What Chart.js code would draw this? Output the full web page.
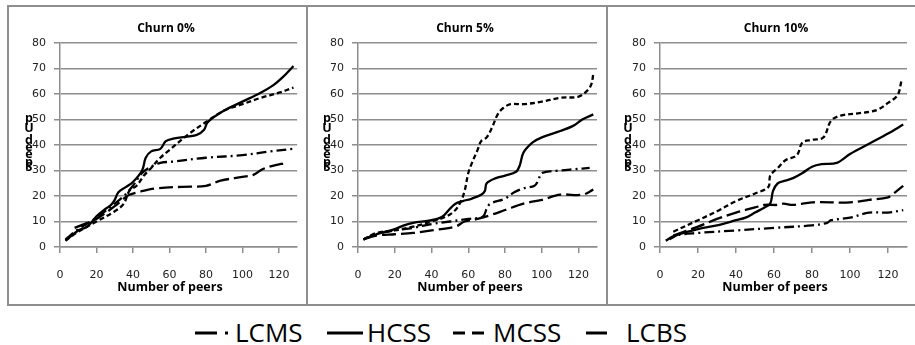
<!DOCTYPE html>
<html><head><meta charset="utf-8">
<script src="https://cdn.jsdelivr.net/npm/chart.js@4/dist/chart.umd.min.js"></script>
<style>
html,body{margin:0;padding:0;background:#fff;width:915px;height:345px;overflow:hidden;position:relative;}
.b{position:absolute;background:#8e8e8e;}
canvas.c{position:absolute;top:7px;}
.lg{position:absolute;top:319px;font-family:"Open Sans";font-size:26px;line-height:26px;color:#000;white-space:nowrap;}
.ls{position:absolute;top:330px;}
</style></head><body>
<div class="b" style="left:7px;top:5px;width:908px;height:2px"></div>
<div class="b" style="left:7px;top:304px;width:908px;height:2px"></div>
<div class="b" style="left:7px;top:5px;width:2px;height:301px"></div>
<div class="b" style="left:306px;top:5px;width:2px;height:301px"></div>
<div class="b" style="left:606px;top:5px;width:2px;height:301px"></div>
<canvas class="c" id="p0" width="297" height="297" style="left:9px"></canvas>
<canvas class="c" id="p5" width="298" height="297" style="left:308px"></canvas>
<canvas class="c" id="p10" width="307" height="297" style="left:608px"></canvas>
<div id="legend"></div>
<script>
// ---- data ----
const seriesNames = ['LCMS', 'HCSS', 'MCSS', 'LCBS'];
const panelTitles = ['Churn 0%', 'Churn 5%', 'Churn 10%'];
const xTitle = 'Number of peers';
const yTitle = 'SpeedUp';
const xTickValues = [0, 20, 40, 60, 80, 100, 120];
const yTickValues = [0, 10, 20, 30, 40, 50, 60, 70, 80];

// Churn 0%  ([peers, speedup])
const c0_LCMS = [[3,3],[10,7],[20,11.5],[30,17],[35,20],[40,24],[45,29],[50,31.5],[55,33],[62,33.5],[80,35],[100,36],[115,37.5],[128,38.5]];
const c0_HCSS = [[3,2.5],[10,6.5],[15,8],[20,12],[25,15],[28,16.5],[30,18.5],[32,21.5],[36,23.5],[40,25.5],[45,30],[47,35],[50,37.5],[55,38.5],[58,41.5],[62,42.5],[75,44],[79,46],[81,49],[90,53.5],[100,57],[110,60.5],[117,63.5],[122,66.5],[128,71]];
const c0_MCSS = [[3,2.5],[10,6],[20,10],[30,14],[35,17],[38,22],[42,24],[46,28],[50,31],[55,35],[60,38],[70,44],[80,49],[90,53.5],[100,56],[110,58.5],[120,60.5],[128,62.5]];
const c0_LCBS = [[8,7.5],[15,9.5],[20,11],[30,16],[35,19],[38,20.5],[44,21.7],[53,23],[67,23.6],[80,24],[88,26],[100,27.5],[106,28.3],[111,30.5],[116,31.7],[124,33]];

// Churn 5%
const c5_LCMS = [[3,3],[10,5],[20,6.5],[30,7.5],[40,9],[50,10],[60,11],[68,12],[70,15],[72,17],[80,19],[85,21.5],[90,23],[96,24],[98,26],[100,29],[110,30],[118,30.5],[126,31]];
const c5_HCSS = [[3,3],[10,5],[20,7],[25,8.5],[30,9.5],[40,10.5],[46,12],[50,15],[53,17],[57,18],[62,19],[67,20.5],[69,22],[70,25],[75,27],[80,28],[86,29.5],[88,32],[90,37],[95,41],[100,43],[110,45.5],[117,47.5],[122,50],[128,52]];
const c5_MCSS = [[3,3],[10,5.5],[20,6.5],[30,8],[40,10],[48,12],[53,14.5],[56,18],[58,22],[60,29],[62,33],[65,38],[67,41.5],[70,43],[73,47],[76,52],[79,54.5],[83,56],[90,56],[100,57],[110,58.5],[120,59],[125,61.5],[127,64],[128,68]];
const c5_LCBS = [[3,3],[10,4.5],[20,5],[30,5.5],[40,6.5],[53,8],[58,10],[65,11],[72,12.5],[80,14.5],[90,17],[100,18.5],[110,20.5],[122,20.5],[128,22.5]];

// Churn 10%
const c10_LCMS = [[3,2.5],[8,4.5],[20,5.5],[40,6.5],[60,7.5],[80,8.5],[88,9.5],[90,10.5],[100,11.5],[110,13.5],[120,13.5],[128,14.5]];
const c10_HCSS = [[5,3],[10,5],[20,7],[30,8.5],[40,10.5],[45,11.5],[50,13.5],[55,15.5],[58,17],[59.5,22],[62,25],[66,26],[70,27],[75,29],[80,31.5],[85,32.5],[93,33],[100,36.5],[110,40.5],[120,44.5],[128,48]];
const c10_MCSS = [[7,6],[20,10.5],[30,14],[40,18],[50,21],[57,23.5],[58,28],[62,31],[66,34],[72,36],[75,41],[80,42],[86,43],[90,49.5],[95,51.5],[105,52.5],[110,53],[115,54],[120,56.5],[125,59.5],[127,65]];
const c10_LCBS = [[7,4.5],[20,8],[30,11],[40,13.5],[50,15.5],[55,16.5],[62,16.5],[65,17],[70,16.5],[80,17.5],[100,17.5],[110,18.5],[120,19.5],[123,21],[128,24]];

// ---- styles ----
const dashes = {LCMS:[10,4,2,4], HCSS:[], MCSS:[5,3], LCBS:[14,5]};
const gridColor = '#8e8e8e';

const panels = [
  {id:'p0',  title:panelTitles[0], data:{LCMS:c0_LCMS, HCSS:c0_HCSS, MCSS:c0_MCSS, LCBS:c0_LCBS}, yw:51, pr:8, tx:157, ax:161, yx:20},
  {id:'p5',  title:panelTitles[1], data:{LCMS:c5_LCMS, HCSS:c5_HCSS, MCSS:c5_MCSS, LCBS:c5_LCBS}, yw:50, pr:9, tx:157, ax:162, yx:19},
  {id:'p10', title:panelTitles[2], data:{LCMS:c10_LCMS, HCSS:c10_HCSS, MCSS:c10_MCSS, LCBS:c10_LCBS}, yw:52, pr:6, tx:168, ax:167, yx:20}
];

// letter centres (bottom-up) of the stacked y-axis title, canvas coords
const yLetterPos = [160, 155, 147, 140, 133, 121, 111];

function makeDeco(p){
  return {
    id:'deco_'+p.id,
    afterDraw(chart){
      const ctx = chart.ctx;
      ctx.save();
      ctx.fillStyle = '#000';
      ctx.textAlign = 'center';
      ctx.textBaseline = 'middle';
      ctx.font = 'bold 12px "Open Sans"';
      ctx.fillText(p.title, p.tx, 22);
      ctx.font = 'bold 12.5px "Open Sans"';
      ctx.fillText(xTitle, p.ax, 280);
      ctx.font = 'bold 12.5px "Open Sans"';
      for (let i = 0; i < yTitle.length; i++) {
        ctx.fillText(yTitle[i], p.yx, yLetterPos[i]);
      }
      ctx.restore();
    }
  };
}

panels.forEach(p => {
  const datasets = seriesNames.map(n => ({
    label: n,
    data: p.data[n].map(d => ({x:d[0], y:d[1]})),
    borderColor: '#000',
    borderWidth: 2.3,
    borderDash: dashes[n],
    pointRadius: 0,
    fill: false,
    tension: 0.35
  }));
  new Chart(document.getElementById(p.id), {
    type: 'line',
    data: {datasets},
    plugins: [makeDeco(p)],
    options: {
      responsive: false,
      animation: false,
      layout: {padding: {left:0, right:p.pr, top:36, bottom:0}},
      plugins: {legend:{display:false}, tooltip:{enabled:false}, title:{display:false}},
      scales: {
        x: {
          type: 'linear', min: 0, max: 130,
          afterBuildTicks: s => { s.ticks = xTickValues.map(v => ({value:v})); },
          afterFit: s => { s.height = 57; },
          grid: {drawOnChartArea:false, drawTicks:true, tickLength:6, color:gridColor, lineWidth:1.5},
          border: {display:true, color:gridColor, width:1.5},
          ticks: {padding:16, maxRotation:0, autoSkip:false, color:'#222', font:{family:'DejaVu Sans', size:11}}
        },
        y: {
          min: 0, max: 80,
          afterBuildTicks: s => { s.ticks = yTickValues.map(v => ({value:v})); },
          afterFit: s => { s.width = p.yw; },
          grid: {drawTicks:true, tickLength:6, color:gridColor, lineWidth:1.5},
          border: {display:true, color:gridColor, width:1.5},
          ticks: {padding:8, color:'#222', font:{family:'DejaVu Sans', size:11}}
        }
      }
    }
  });
});

// ---- HTML legend ----
const legendPos = [195, 327, 453, 586];
const lg = document.getElementById('legend');
seriesNames.forEach((n, i) => {
  const cv = document.createElement('canvas');
  cv.width = 38; cv.height = 6; cv.className = 'ls';
  cv.style.left = legendPos[i] + 'px';
  lg.appendChild(cv);
  const c = cv.getContext('2d');
  c.strokeStyle = '#000'; c.lineWidth = 3;
  const ld = {LCMS:[22,8,3,20], HCSS:[], MCSS:[12,7], LCBS:[21,20]}[n];
  c.setLineDash(ld);
  c.beginPath(); c.moveTo(0,3); c.lineTo(36,3); c.stroke();
  const sp = document.createElement('span');
  sp.className = 'lg';
  sp.style.left = (legendPos[i] + 40) + 'px';
  sp.textContent = n;
  lg.appendChild(sp);
});
</script>
</body></html>
